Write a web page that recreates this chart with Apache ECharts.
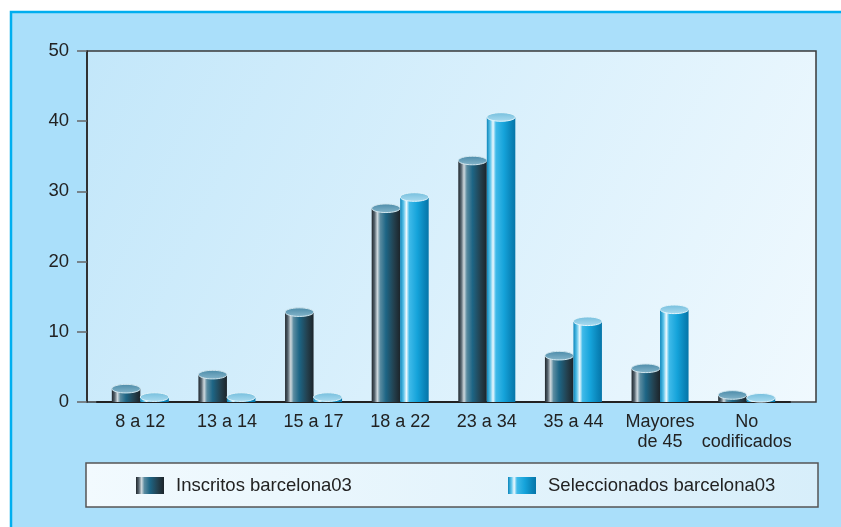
<!DOCTYPE html>
<html>
<head>
<meta charset="utf-8">
<script src="https://cdn.jsdelivr.net/npm/echarts@6/dist/echarts.min.js"></script>
<style>
html,body{margin:0;padding:0;background:#ffffff;}
#chart{width:841px;height:527px;}
</style>
</head>
<body>
<div id="chart"></div>
<script>
const categories = ['8 a 12','13 a 14','15 a 17','18 a 22','23 a 34','35 a 44','Mayores\nde 45','No\ncodificados'];
const inscritos = [1.9, 3.9, 12.8, 27.6, 34.4, 6.6, 4.8, 1.0];
const seleccionados = [0.7, 0.7, 0.7, 29.2, 40.6, 11.5, 13.2, 0.6];
const yTicks = [0, 10, 20, 30, 40, 50];
const seriesNames = ['Inscritos barcelona03', 'Seleccionados barcelona03'];

const LG = echarts.graphic.LinearGradient;
const insBody = new LG(0,0,1,0,[
  {offset:0,color:'#1f262c'},{offset:0.1,color:'#56646e'},{offset:0.2,color:'#cfd9de'},
  {offset:0.3,color:'#5a8ba0'},{offset:0.5,color:'#1d6585'},{offset:0.78,color:'#23404e'},{offset:1,color:'#1c242a'}]);
const insTop = new LG(0,0,0,1,[{offset:0,color:'#4a8aa8'},{offset:1,color:'#86b6cb'}]);
const selBody = new LG(0,0,1,0,[
  {offset:0,color:'#0b86bb'},{offset:0.12,color:'#5ec4ea'},{offset:0.22,color:'#eef9fe'},
  {offset:0.32,color:'#3fbae9'},{offset:0.6,color:'#15a3da'},{offset:0.85,color:'#0a85ba'},{offset:1,color:'#0675a8'}]);
const selTop = new LG(0,0,0,1,[{offset:0,color:'#74bedd'},{offset:1,color:'#acdcf0'}]);

function makeRender(side, bodyGrad, topGrad, rim){
  return function(params, api){
    const idx = api.value(0), v = api.value(1);
    const top = api.coord([idx, v]);
    const base = api.coord([idx, 0]);
    const w = 28.5;
    const x = side === 0 ? top[0] - w : top[0];
    return {type:'group', children:[
      {type:'rect', shape:{x:x, y:top[1], width:w, height:base[1]-top[1]}, style:{fill:bodyGrad}},
      {type:'ellipse', shape:{cx:x+w/2, cy:top[1], rx:w/2, ry:4.3}, style:{fill:topGrad, stroke:rim, lineWidth:1}}
    ]};
  };
}

const chart = echarts.init(document.getElementById('chart'));
chart.setOption({
  animation:false,
  textStyle:{fontFamily:'Liberation Sans'},
  graphic:[
    {type:'rect', z:-10, shape:{x:11,y:12,width:840,height:530}, style:{fill:'#aadffa', stroke:'#00aeef', lineWidth:2.5}},
    {type:'rect', z:-9, shape:{x:87,y:51,width:729,height:351},
      style:{fill:new LG(0,0,1,1,[{offset:0,color:'#c3e7fa'},{offset:1,color:'#f0f9fe'}]), stroke:'#3a3a3a', lineWidth:1.5}},
    {type:'rect', z:-9, shape:{x:86,y:463,width:732,height:44},
      style:{fill:new LG(0,0,1,0,[{offset:0,color:'#f2fafe'},{offset:1,color:'#d7eefa'}]), stroke:'#555', lineWidth:1.5}}
  ],
  grid:{left:97, right:51, top:51, bottom:125},
  legend:[
    {data:[{name:seriesNames[0], itemStyle:{color:insBody}}], left:136, top:476, padding:0, itemWidth:28, itemHeight:17, icon:'rect',
      textStyle:{fontSize:18.5, color:'#222', padding:[0,0,0,7]}},
    {data:[{name:seriesNames[1], itemStyle:{color:selBody}}], left:508, top:476, padding:0, itemWidth:28, itemHeight:17, icon:'rect',
      textStyle:{fontSize:18.5, color:'#222', padding:[0,0,0,7]}}
  ],
  xAxis:{type:'category', data:categories,
    axisLine:{lineStyle:{color:'#222', width:2}}, axisTick:{show:false},
    axisLabel:{color:'#222', fontSize:18, margin:10, lineHeight:20, interval:0}},
  yAxis:{type:'value', min:yTicks[0], max:yTicks[yTicks.length-1], interval:10, offset:10,
    axisLine:{show:true, lineStyle:{color:'#222', width:1.5}},
    axisTick:{show:true, length:10, lineStyle:{color:'#666', width:1.5}},
    splitLine:{show:false},
    axisLabel:{color:'#222', fontSize:18.5, margin:18}},
  series:[
    {name:seriesNames[0], type:'custom', itemStyle:{color:'#1d6585'}, renderItem:makeRender(0, insBody, insTop, '#d2e7ef'),
      encode:{x:0, y:1}, data:inscritos.map((v,i)=>[i,v])},
    {name:seriesNames[1], type:'custom', itemStyle:{color:'#15a3da'}, renderItem:makeRender(1, selBody, selTop, '#e4f5fc'),
      encode:{x:0, y:1}, data:seleccionados.map((v,i)=>[i,v])}
  ]
});
</script>
</body>
</html>
